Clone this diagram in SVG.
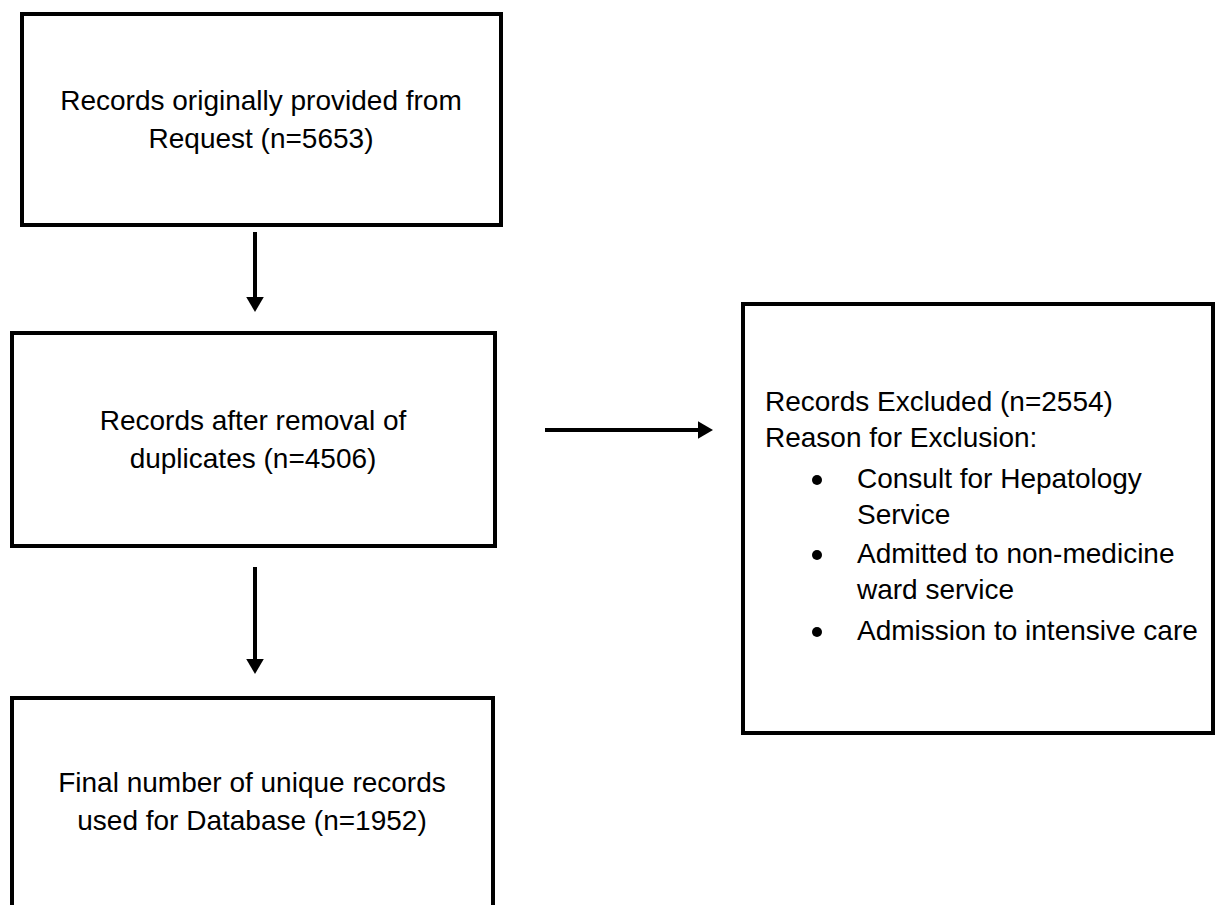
<svg xmlns="http://www.w3.org/2000/svg" width="1216" height="905" viewBox="0 0 1216 905">
<style>
.box{fill:#fff;stroke:#000;stroke-width:4}
.t{font-family:"Liberation Sans",Arial,sans-serif;font-size:28px;fill:#000}
.c{text-anchor:middle}
.conn{stroke:#000;stroke-width:4;fill:none}
</style>
<defs>
<marker id="ah" markerWidth="4" markerHeight="4.4" refX="1.5" refY="2.2" orient="auto" markerUnits="strokeWidth">
<path d="M0,0 L3.75,2.2 L0,4.4 Z" fill="#000"/>
</marker>
</defs>
<rect width="1216" height="905" fill="#fff"/>
<g id="n1">
<rect class="box" x="22" y="14" width="479" height="211"/>
<text class="t c" x="261" y="110">Records originally provided from</text>
<text class="t c" x="261" y="148">Request (n=5653)</text>
</g>
<g id="n2">
<rect class="box" x="12" y="333" width="483" height="213"/>
<text class="t c" x="253" y="430">Records after removal of</text>
<text class="t c" x="253" y="468">duplicates (n=4506)</text>
</g>
<g id="n3">
<rect class="box" x="12" y="698" width="481" height="230"/>
<text class="t c" x="252" y="792">Final number of unique records</text>
<text class="t c" x="252" y="830">used for Database (n=1952)</text>
</g>
<g id="n4">
<rect class="box" x="743" y="304" width="470" height="429"/>
<text class="t" x="765" y="411">Records Excluded (n=2554)</text>
<text class="t" x="765" y="447">Reason for Exclusion:</text>
<circle cx="817" cy="480" r="5" fill="#000"/>
<text class="t" x="857" y="488">Consult for Hepatology</text>
<text class="t" x="857" y="524">Service</text>
<circle cx="817" cy="555" r="5" fill="#000"/>
<text class="t" x="857" y="563">Admitted to non-medicine</text>
<text class="t" x="857" y="599">ward service</text>
<circle cx="817" cy="632" r="5" fill="#000"/>
<text class="t" x="857" y="640">Admission to intensive care</text>
</g>
<g id="connectors">
<line class="conn" x1="255" y1="232" x2="255" y2="303" marker-end="url(#ah)"/>
<line class="conn" x1="545" y1="430" x2="704" y2="430" marker-end="url(#ah)"/>
<line class="conn" x1="255" y1="567" x2="255" y2="665" marker-end="url(#ah)"/>
</g>
</svg>
